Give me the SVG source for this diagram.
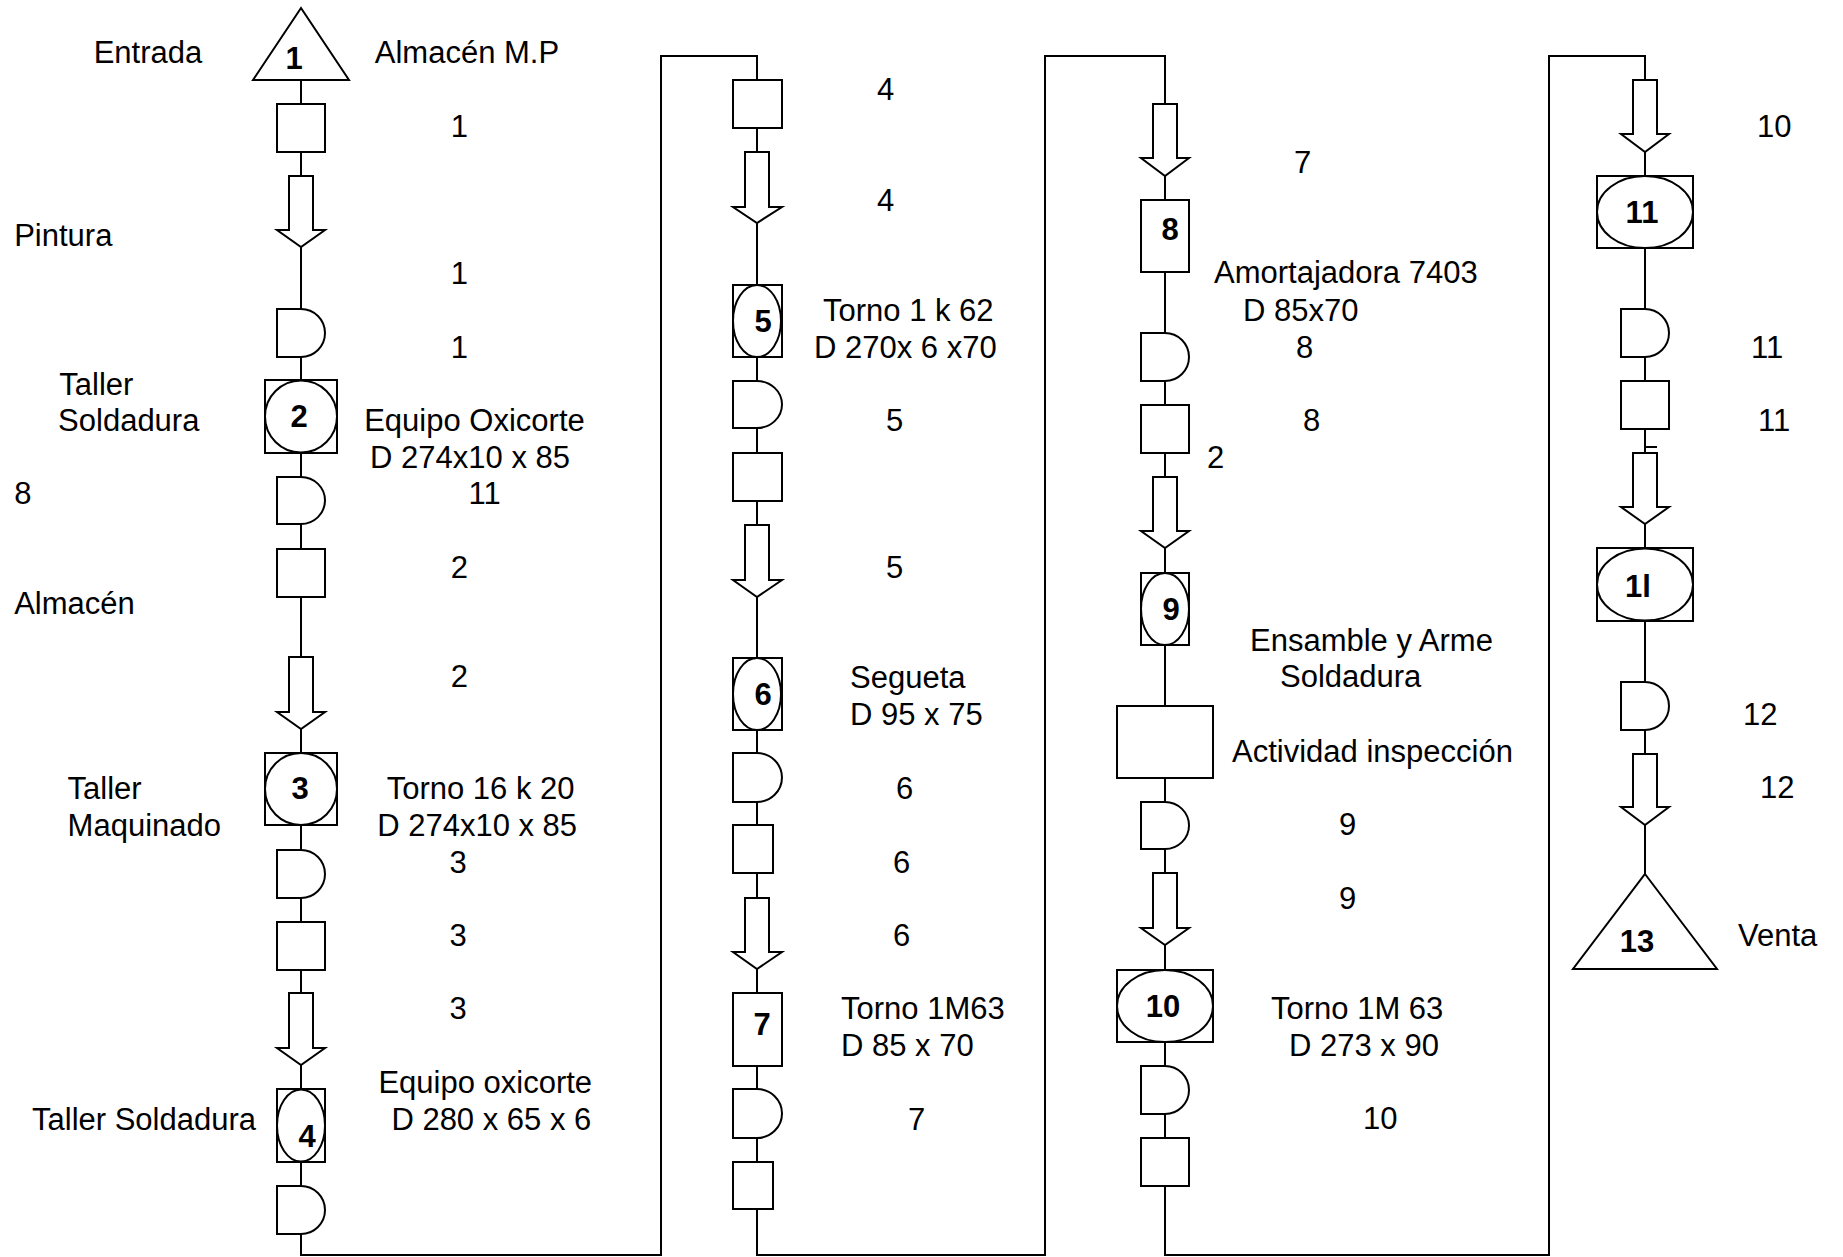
<svg xmlns="http://www.w3.org/2000/svg" width="1843" height="1257" viewBox="0 0 1843 1257">
<style>
.s{fill:#fff;stroke:#000;stroke-width:2}
.c{fill:none;stroke:#000;stroke-width:2}
.t{font-family:"Liberation Sans",Arial,sans-serif;font-size:31px;fill:#000;white-space:pre}
.b{font-weight:bold;text-anchor:middle}
</style>
<rect width="1843" height="1257" fill="#fff"/>
<g id="connectors">
<path class="c" d="M301,80 V1255 H661 V56 H757 V1255 H1045 V56 H1165 V1255 H1549 V56 H1645 V874"/>
<path class="c" d="M1645,447 H1657"/>
</g>
<g id="col1">
<g id="n1"><polygon class="s" points="301,8 349,80 253,80"/></g>
<g id="c1s1"><rect class="s" x="277" y="104" width="48" height="48"/></g>
<g id="c1a1"><path class="s" d="M289,176 H313 V230 H325 L301,247 L277,230 H289 Z"/></g>
<g id="c1d1"><path class="s" d="M277,309 H301 A24,24 0 0 1 301,357 H277 Z"/></g>
<g id="n2"><rect class="s" x="265" y="380" width="72" height="73"/><ellipse class="s" cx="301" cy="416.5" rx="36" ry="36"/></g>
<g id="c1d2"><path class="s" d="M277,477 H301 A24,23.5 0 0 1 301,524 H277 Z"/></g>
<g id="c1s2"><rect class="s" x="277" y="549" width="48" height="48"/></g>
<g id="c1a2"><path class="s" d="M289,657 H313 V712 H325 L301,729 L277,712 H289 Z"/></g>
<g id="n3"><rect class="s" x="265" y="753" width="72" height="72"/><ellipse class="s" cx="301" cy="789" rx="36" ry="36"/></g>
<g id="c1d3"><path class="s" d="M277,850 H301 A24,24 0 0 1 301,898 H277 Z"/></g>
<g id="c1s3"><rect class="s" x="277" y="922" width="48" height="48"/></g>
<g id="c1a3"><path class="s" d="M289,993 H313 V1048 H325 L301,1065 L277,1048 H289 Z"/></g>
<g id="n4"><rect class="s" x="277" y="1089" width="48" height="73"/><ellipse class="s" cx="301" cy="1125.5" rx="24" ry="36"/></g>
<g id="c1d4"><path class="s" d="M277,1186 H301 A24,24 0 0 1 301,1234 H277 Z"/></g>
</g>
<g id="col2">
<g id="c2s1"><rect class="s" x="733" y="80" width="49" height="48"/></g>
<g id="c2a1"><path class="s" d="M745,152 H769 V207 H782 L757,223 L733,207 H745 Z"/></g>
<g id="n5"><rect class="s" x="733" y="285" width="49" height="72"/><ellipse class="s" cx="757" cy="321" rx="24" ry="36"/></g>
<g id="c2d1"><path class="s" d="M733,381 H757 A25,23.5 0 0 1 757,428 H733 Z"/></g>
<g id="c2s2"><rect class="s" x="733" y="453" width="49" height="48"/></g>
<g id="c2a2"><path class="s" d="M745,525 H769 V580 H782 L757,597 L733,580 H745 Z"/></g>
<g id="n6"><rect class="s" x="733" y="658" width="49" height="72"/><ellipse class="s" cx="757" cy="694" rx="24" ry="36"/></g>
<g id="c2d2"><path class="s" d="M733,753 H757 A25,24.5 0 0 1 757,802 H733 Z"/></g>
<g id="c2s3"><rect class="s" x="733" y="825" width="40" height="48"/></g>
<g id="c2a3"><path class="s" d="M745,898 H769 V952 H782 L757,969 L733,952 H745 Z"/></g>
<g id="n7"><rect class="s" x="733" y="993" width="49" height="73"/></g>
<g id="c2d3"><path class="s" d="M733,1089 H757 A25,24.5 0 0 1 757,1138 H733 Z"/></g>
<g id="c2s4"><rect class="s" x="733" y="1162" width="40" height="47"/></g>
</g>
<g id="col3">
<g id="c3a1"><path class="s" d="M1153,104 H1177 V158 H1189 L1165,176 L1141,158 H1153 Z"/></g>
<g id="n8"><rect class="s" x="1141" y="200" width="48" height="72"/></g>
<g id="c3d1"><path class="s" d="M1141,333 H1165 A24,24 0 0 1 1165,381 H1141 Z"/></g>
<g id="c3s1"><rect class="s" x="1141" y="405" width="48" height="48"/></g>
<g id="c3a2"><path class="s" d="M1153,477 H1177 V531 H1189 L1165,548 L1141,531 H1153 Z"/></g>
<g id="n9"><rect class="s" x="1141" y="573" width="48" height="72"/><ellipse class="s" cx="1165" cy="609" rx="24" ry="36"/></g>
<g id="c3s2"><rect class="s" x="1117" y="706" width="96" height="72"/></g>
<g id="c3d2"><path class="s" d="M1141,802 H1165 A24,23.5 0 0 1 1165,849 H1141 Z"/></g>
<g id="c3a3"><path class="s" d="M1153,873 H1177 V928 H1189 L1165,945 L1141,928 H1153 Z"/></g>
<g id="n10"><rect class="s" x="1117" y="970" width="96" height="72"/><ellipse class="s" cx="1165" cy="1006" rx="48" ry="36"/></g>
<g id="c3d3"><path class="s" d="M1141,1066 H1165 A24,24 0 0 1 1165,1114 H1141 Z"/></g>
<g id="c3s3"><rect class="s" x="1141" y="1138" width="48" height="48"/></g>
</g>
<g id="col4">
<g id="c4a1"><path class="s" d="M1633,80 H1657 V134 H1669 L1645,152 L1621,134 H1633 Z"/></g>
<g id="n11"><rect class="s" x="1597" y="176" width="96" height="72"/><ellipse class="s" cx="1645" cy="212" rx="48" ry="36"/></g>
<g id="c4d1"><path class="s" d="M1621,309 H1645 A24,24 0 0 1 1645,357 H1621 Z"/></g>
<g id="c4s1"><rect class="s" x="1621" y="381" width="48" height="48"/></g>
<g id="c4a2"><path class="s" d="M1633,453 H1657 V507 H1669 L1645,524 L1621,507 H1633 Z"/></g>
<g id="n12"><rect class="s" x="1597" y="548" width="96" height="73"/><ellipse class="s" cx="1645" cy="584.5" rx="48" ry="36"/></g>
<g id="c4d2"><path class="s" d="M1621,682 H1645 A24,24 0 0 1 1645,730 H1621 Z"/></g>
<g id="c4a3"><path class="s" d="M1633,754 H1657 V807 H1669 L1645,825 L1621,807 H1633 Z"/></g>
<g id="n13"><polygon class="s" points="1645,874 1717,969 1573,969"/></g>
</g>
<g id="labels" class="t">
<text class="b" x="294.2" y="69">1</text>
<text class="b" x="299" y="427">2</text>
<text class="b" x="300" y="799">3</text>
<text class="b" x="307.2" y="1147">4</text>
<text x="93.7" y="63">Entrada</text>
<text x="374.8" y="63">Almacén M.P</text>
<text x="450.8" y="137">1</text>
<text x="14.2" y="246">Pintura</text>
<text x="450.8" y="284">1</text>
<text x="450.8" y="358">1</text>
<text x="59.3" y="395">Taller</text>
<text x="58.1" y="431">Soldadura</text>
<text x="364.2" y="431">Equipo Oxicorte</text>
<text x="370.1" y="468">D 274x10 x 85</text>
<text x="14.2" y="504">8</text>
<text x="468.5" y="504">11</text>
<text x="450.8" y="578">2</text>
<text x="14.2" y="614">Almacén</text>
<text x="450.8" y="687">2</text>
<text x="67.6" y="799">Taller</text>
<text x="386.7" y="799">Torno  16 k 20</text>
<text x="67.6" y="836">Maquinado</text>
<text x="377.2" y="836">D 274x10 x 85</text>
<text x="449.6" y="873">3</text>
<text x="449.6" y="946">3</text>
<text x="449.6" y="1019">3</text>
<text x="378.4" y="1093">Equipo oxicorte</text>
<text x="32" y="1130">Taller Soldadura</text>
<text x="391.4" y="1130">D 280 x 65 x 6</text>
<text class="b" x="763" y="332">5</text>
<text class="b" x="763" y="705">6</text>
<text class="b" x="762" y="1035">7</text>
<text class="b" x="1170" y="240">8</text>
<text class="b" x="1171" y="620">9</text>
<text class="b" x="1163" y="1017">10</text>
<text class="b" x="1642" y="223">11</text>
<text class="b" x="1638" y="597">1l</text>
<text class="b" x="1637" y="952">13</text>
<text x="877" y="100">4</text>
<text x="877" y="211">4</text>
<text x="823" y="321">Torno 1 k 62</text>
<text x="814" y="358">D 270x 6 x70</text>
<text x="886" y="431">5</text>
<text x="886" y="578">5</text>
<text x="850" y="688">Segueta</text>
<text x="850" y="725">D 95 x 75</text>
<text x="896" y="799">6</text>
<text x="893" y="873">6</text>
<text x="893" y="946">6</text>
<text x="841" y="1019">Torno 1M63</text>
<text x="841" y="1056">D 85 x 70</text>
<text x="908" y="1130">7</text>
<text x="1294" y="173">7</text>
<text x="1214" y="283">Amortajadora 7403</text>
<text x="1243" y="321">D 85x70</text>
<text x="1296" y="358">8</text>
<text x="1303" y="431">8</text>
<text x="1207" y="468">2</text>
<text x="1250" y="651">Ensamble y Arme</text>
<text x="1280" y="687">Soldadura</text>
<text x="1232" y="762">Actividad inspección</text>
<text x="1339" y="835">9</text>
<text x="1339" y="909">9</text>
<text x="1271" y="1019">Torno 1M 63</text>
<text x="1289" y="1056">D 273 x 90</text>
<text x="1363" y="1129">10</text>
<text x="1757" y="137">10</text>
<text x="1751" y="358">11</text>
<text x="1758" y="431">11</text>
<text x="1743" y="725">12</text>
<text x="1760" y="798">12</text>
<text x="1738" y="946">Venta</text>
</g>
</svg>
